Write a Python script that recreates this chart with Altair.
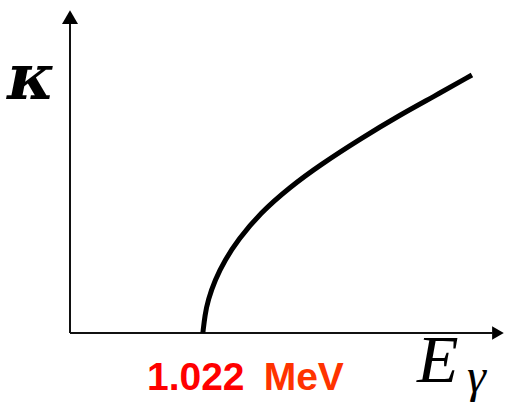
import altair as alt
import pandas as pd

# Pair-production coefficient vs photon energy (schematic), threshold at 1.022 MeV
energy = [1.022, 1.038, 1.062, 1.115, 1.192, 1.292, 1.462, 1.692, 1.923, 2.231, 2.538, 2.792, 3.092]
kappa = [0.0, 0.556, 1.019, 1.636, 2.253, 2.870, 3.700, 4.506, 5.185, 5.988, 6.728, 7.284, 7.963]

# axis extents in data units
x_axis_end = [3.25]
y_axis_end = [9.6]
x_arrow = [3.292]
y_arrow = [9.75]

# label anchors in data units
label_text = ["κ", "E", "γ", "1.022", "MeV"]
label_x = [-0.485, 2.669, 3.054, 0.592, 1.49]
label_y = [7.22, -1.512, -1.83, -1.759, -1.759]

X_DOMAIN = [0, 3.354]
Y_DOMAIN = [0, 10]

xs = alt.Scale(domain=X_DOMAIN, nice=False, zero=False)
ys = alt.Scale(domain=Y_DOMAIN, nice=False, zero=False)

curve_df = pd.DataFrame({"E": energy, "k": kappa})

curve = alt.Chart(curve_df).mark_line(
    color="black", strokeWidth=5, interpolate="basis", strokeCap="butt"
).encode(
    x=alt.X("E:Q", scale=xs, axis=None),
    y=alt.Y("k:Q", scale=ys, axis=None),
    order="E:Q",
)

axes_df = pd.DataFrame({"x0": [0, 0], "y0": [0, 0], "x1": [x_axis_end[0], 0], "y1": [0, y_axis_end[0]]})
axes = alt.Chart(axes_df).mark_rule(color="#111", strokeWidth=2).encode(
    x=alt.X("x0:Q", scale=xs, axis=None),
    y=alt.Y("y0:Q", scale=ys, axis=None),
    x2="x1:Q",
    y2="y1:Q",
)

xarrow = alt.Chart(pd.DataFrame({"x": x_arrow, "y": [0]})).mark_point(
    shape="triangle-right", size=182, filled=True, color="#000", opacity=1
).encode(x=alt.X("x:Q", scale=xs, axis=None), y=alt.Y("y:Q", scale=ys, axis=None))

yarrow = alt.Chart(pd.DataFrame({"x": [0], "y": y_arrow})).mark_point(
    shape="triangle-up", size=256, filled=True, color="#000", opacity=1
).encode(x=alt.X("x:Q", scale=xs, axis=None), y=alt.Y("y:Q", scale=ys, axis=None))

labels = pd.DataFrame({"t": label_text, "x": label_x, "y": label_y})


def label(i, **style):
    return alt.Chart(labels.iloc[[i]]).mark_text(baseline="alphabetic", **style).encode(
        x=alt.X("x:Q", scale=xs, axis=None),
        y=alt.Y("y:Q", scale=ys, axis=None),
        text="t:N",
    )


kappa_label = label(0, align="left", font="DejaVu Serif", fontSize=64,
                    fontStyle="italic", fontWeight="bold", color="black")
e_label = label(1, align="left", font="Liberation Serif", fontSize=68,
                fontStyle="italic", color="black")
gamma_label = label(2, align="left", font="Liberation Serif", fontSize=48,
                    fontStyle="italic", color="black")
thr_num = label(3, align="left", font="Liberation Sans", fontSize=39,
                fontWeight="bold", color="#ff0000")
thr_unit = label(4, align="left", font="Liberation Sans", fontSize=39,
                 fontWeight="bold", color="#ff3300")

chart = alt.layer(
    axes, xarrow, yarrow, curve, kappa_label, e_label, gamma_label, thr_num, thr_unit
).properties(
    width=436,
    height=324,
    padding={"left": 70, "top": 9, "right": 0, "bottom": 74},
    autosize="none",
    background="white",
).configure_view(stroke=None)

chart.save("out.html", embed_options={"renderer": "svg", "actions": False})
